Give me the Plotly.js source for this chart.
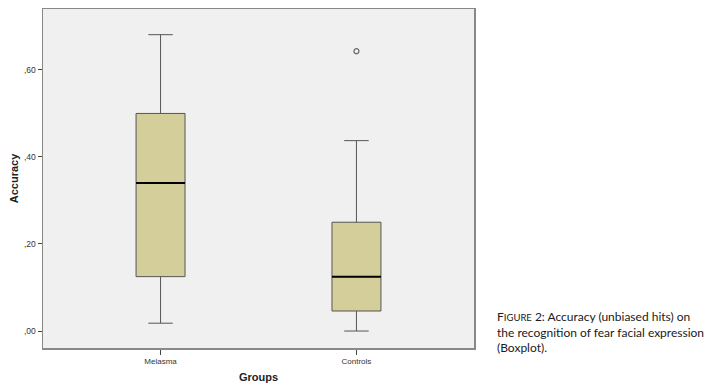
<!DOCTYPE html>
<html>
<head>
<meta charset="utf-8">
<script src="https://cdn.plot.ly/plotly-3.0.1.min.js"></script>
<style>
html,body{margin:0;padding:0;background:#fff;}
#chart{width:707px;height:390px;}
</style>
</head>
<body>
<div id="chart"></div>
<script>
// Data
var groups = ["Melasma", "Controls"];
var lowerFence = [0.018, 0.0];
var q1 = [0.125, 0.046];
var median = [0.34, 0.125];
var q3 = [0.50, 0.25];
var upperFence = [0.681, 0.4375];
var outlierGroups = ["Controls"];
var outlierValues = [0.643];
var yTickVals = [0, 0.2, 0.4, 0.6];
var yTickText = [",00", ",20", ",40", ",60"];

var boxWidth = 0.25;

var boxTrace = {
  type: "box",
  x: groups,
  q1: q1,
  median: median,
  q3: q3,
  lowerfence: lowerFence,
  upperfence: upperFence,
  width: boxWidth,
  whiskerwidth: 0.5,
  fillcolor: "#D3CE9A",
  line: {color: "#555555", width: 1},
  boxpoints: false,
  hoverinfo: "skip",
  showlegend: false
};

var outlierTrace = {
  type: "scatter",
  mode: "markers",
  x: outlierGroups,
  y: outlierValues,
  marker: {symbol: "circle-open", size: 5, color: "#666666", line: {width: 1.2, color: "#666666"}},
  showlegend: false,
  hoverinfo: "skip"
};

var shapes = median.map(function (m, i) {
  return {
    type: "line", xref: "x", yref: "y",
    x0: i - boxWidth / 2, x1: i + boxWidth / 2,
    y0: m, y1: m,
    line: {color: "#000000", width: 2}
  };
});

var layout = {
  width: 707,
  height: 390,
  margin: {l: 43, r: 233, t: 9, b: 42},
  paper_bgcolor: "#ffffff",
  plot_bgcolor: "#F0F0F0",
  font: {family: "Liberation Sans, Arial, sans-serif", color: "#222222"},
  xaxis: {
    type: "category",
    range: [-0.6, 1.6],
    showgrid: false,
    zeroline: false,
    showline: true,
    mirror: true,
    linecolor: "#888888",
    linewidth: 1.5,
    ticks: "outside",
    ticklen: 5,
    tickcolor: "#444444",
    tickfont: {size: 8, color: "#333333"},
    title: {text: "Groups", font: {size: 11, color: "#222222", weight: "bold"}, standoff: 8}
  },
  yaxis: {
    range: [-0.039, 0.740],
    showgrid: false,
    zeroline: false,
    showline: true,
    mirror: true,
    linecolor: "#888888",
    linewidth: 1.5,
    ticks: "outside",
    ticklen: 4,
    tickcolor: "#444444",
    tickvals: yTickVals,
    ticktext: yTickText,
    tickfont: {size: 8.5, color: "#333333"},
    title: {text: "Accuracy", font: {size: 11, color: "#222222", weight: "bold"}, standoff: 3}
  },
  shapes: shapes,
  annotations: [{
    xref: "paper", yref: "paper",
    x: 1.048, y: 0.12,
    xanchor: "left", yanchor: "top",
    align: "left",
    showarrow: false,
    font: {family: "Lato, Open Sans, sans-serif", size: 12, color: "#1a1a1a"},
    text: "F<span style=\"font-size:9.5px\">IGURE</span> 2: Accuracy (unbiased hits) on<br>the recognition of fear facial expression<br>(Boxplot)."
  }]
};

Plotly.newPlot("chart", [boxTrace, outlierTrace], layout, {displayModeBar: false, staticPlot: true});
</script>
</body>
</html>
